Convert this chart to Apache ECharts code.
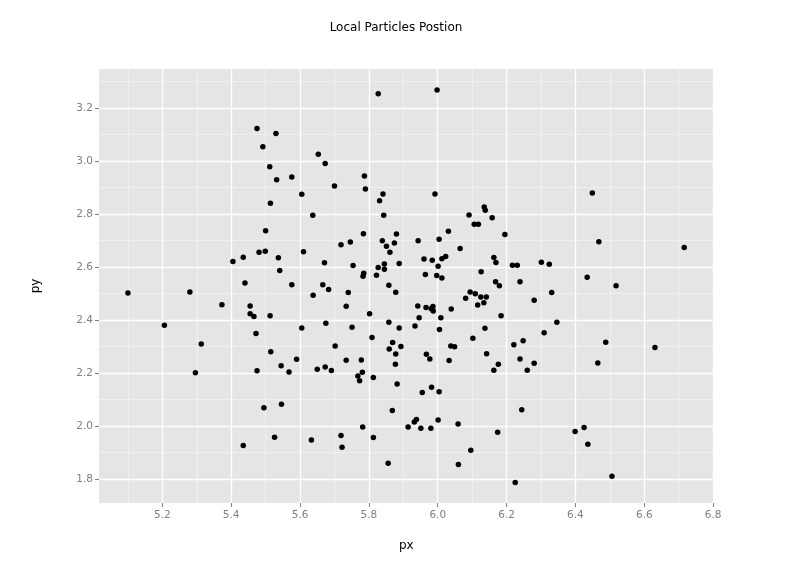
<!DOCTYPE html>
<html>
<head>
<meta charset="utf-8">
<script src="https://cdn.jsdelivr.net/npm/echarts@6/dist/echarts.min.js"></script>
<style>html,body{margin:0;padding:0;background:#fff}#c{width:792px;height:576px}</style>
</head>
<body>
<div id="c"></div>
<script>
const px = [
5.827,5.475,5.530,5.492,5.653,5.673,5.512,5.532,5.576,5.787,5.700,5.790,5.841,5.831,5.605,5.514,
5.998,5.992,6.135,6.138,
6.449,
5.435,5.405,5.440,5.100,5.280,5.373,5.455,5.455,5.206,5.313,
5.637,5.843,5.500,5.784,5.880,5.839,5.874,5.746,5.719,5.851,5.481,5.499,5.610,5.861,5.537,5.671,5.754,5.845,5.888,5.827,5.845,5.541,5.785,5.783,5.822,5.576,5.666,5.858,5.683,5.878,5.638,5.740,5.734,5.802,5.466,5.513,5.675,5.858,5.605,5.751,5.888,5.472,5.809,5.869,5.702,5.893,5.859,5.515,5.878,
6.091,6.158,6.106,6.118,6.031,5.943,6.004,6.195,6.065,5.960,5.984,6.012,6.023,6.163,6.169,6.001,6.217,6.231,6.301,6.324,5.964,5.997,6.012,6.126,6.168,6.179,6.239,6.331,6.094,6.109,6.081,6.125,6.141,6.134,6.116,6.280,5.942,5.966,5.981,5.986,5.987,6.039,6.184,5.946,6.009,6.346,5.934,6.005,6.137,6.309,6.102,6.248,6.221,6.038,6.049,6.142,5.967,5.977,6.033,6.239,
6.468,6.716,6.434,6.518,6.488,6.631,
5.296,5.435,
5.475,5.545,5.568,5.590,5.650,5.673,5.691,5.734,5.778,5.768,5.781,5.773,5.813,5.877,5.882,5.495,5.546,5.868,5.782,5.526,5.633,5.719,5.813,5.722,5.856,
6.176,6.280,6.163,6.260,5.955,5.982,6.004,6.244,5.932,5.938,5.914,5.951,5.980,6.001,6.059,6.174,6.096,6.060,6.225,
6.465,6.425,6.399,6.436,6.506
];
const py = [
3.255,3.123,3.104,3.054,3.026,2.991,2.979,2.930,2.940,2.944,2.906,2.895,2.876,2.850,2.875,2.841,
3.269,2.876,2.827,2.815,
2.880,
2.637,2.621,2.540,2.502,2.506,2.458,2.453,2.424,2.380,2.309,
2.796,2.796,2.737,2.726,2.725,2.699,2.691,2.695,2.684,2.679,2.656,2.660,2.658,2.656,2.635,2.616,2.606,2.612,2.613,2.598,2.592,2.587,2.577,2.565,2.569,2.533,2.533,2.531,2.515,2.505,2.494,2.504,2.452,2.424,2.413,2.416,2.388,2.392,2.370,2.373,2.370,2.349,2.334,2.315,2.302,2.300,2.291,2.280,2.272,
2.797,2.786,2.762,2.762,2.735,2.699,2.705,2.723,2.670,2.630,2.626,2.631,2.640,2.636,2.617,2.603,2.607,2.607,2.618,2.611,2.572,2.568,2.559,2.582,2.545,2.529,2.545,2.504,2.506,2.499,2.482,2.487,2.487,2.465,2.457,2.475,2.453,2.447,2.443,2.451,2.434,2.442,2.416,2.409,2.409,2.392,2.377,2.364,2.369,2.352,2.331,2.322,2.307,2.302,2.299,2.273,2.271,2.253,2.247,2.253,
2.696,2.674,2.562,2.529,2.316,2.296,
2.201,1.926,
2.208,2.227,2.204,2.252,2.214,2.223,2.209,2.248,2.249,2.189,2.203,2.171,2.183,2.233,2.158,2.069,2.082,2.058,1.996,1.957,1.947,1.964,1.956,1.920,1.859,
2.233,2.237,2.210,2.210,2.126,2.146,2.129,2.061,2.015,2.024,1.996,1.991,1.991,2.022,2.007,1.976,1.908,1.854,1.786,
2.238,1.994,1.979,1.931,1.810
];
const xTicks = [5.2,5.4,5.6,5.8,6.0,6.2,6.4,6.6,6.8];
const yTicks = [1.8,2.0,2.2,2.4,2.6,2.8,3.0,3.2];
const xMinor = [5.1,5.3,5.5,5.7,5.9,6.1,6.3,6.5,6.7];
const yMinor = [1.9,2.1,2.3,2.5,2.7,2.9,3.1,3.3];
const xRange = [5.016, 6.801];
const yRange = [1.709, 3.348];

const FONT = 'DejaVu Sans';
const chart = echarts.init(document.getElementById('c'), null, {renderer: 'canvas'});
const points = px.map((x, i) => [x, py[i]]);
const gridLines = (vals, key) => vals.map(v => ({[key]: v}));

chart.setOption({
  animation: false,
  backgroundColor: '#ffffff',
  title: {
    text: 'Local Particles Postion',
    left: 'center', top: 17,
    textStyle: {fontFamily: FONT, fontSize: 12, fontWeight: 'normal', color: '#000'}
  },
  grid: {
    left: 99, right: 78.5, top: 69, bottom: 73,
    show: true, backgroundColor: '#E5E5E5', borderWidth: 0
  },
  xAxis: {
    type: 'value', min: xRange[0], max: xRange[1],
    name: 'px', nameLocation: 'middle', nameGap: 37,
    nameTextStyle: {fontFamily: FONT, fontSize: 12, color: '#000'},
    axisLine: {show: false},
    axisTick: {show: true, length: 4, lineStyle: {color: '#7f7f7f'}, customValues: xTicks},
    axisLabel: {customValues: xTicks, fontFamily: FONT, fontSize: 10.5, color: '#7f7f7f', margin: 7,
      formatter: v => v.toFixed(1)},
    splitLine: {show: false}
  },
  yAxis: {
    type: 'value', min: yRange[0], max: yRange[1],
    name: 'py', nameLocation: 'middle', nameGap: 57, nameRotate: 90,
    nameTextStyle: {fontFamily: FONT, fontSize: 12, color: '#000'},
    axisLine: {show: false},
    axisTick: {show: true, length: 4, lineStyle: {color: '#7f7f7f'}, customValues: yTicks},
    axisLabel: {customValues: yTicks, fontFamily: FONT, fontSize: 10.5, color: '#7f7f7f', margin: 6,
      formatter: v => v.toFixed(1)},
    splitLine: {show: false}
  },
  series: [
    {
      type: 'scatter', data: [], silent: true, z: 1,
      markLine: {
        silent: true, symbol: ['none', 'none'], label: {show: false}, animation: false,
        lineStyle: {color: '#F2F2F2', width: 0.8, type: 'solid'},
        data: gridLines(xMinor, 'xAxis').concat(gridLines(yMinor, 'yAxis'))
      }
    },
    {
      type: 'scatter', data: [], silent: true, z: 1,
      markLine: {
        silent: true, symbol: ['none', 'none'], label: {show: false}, animation: false,
        lineStyle: {color: '#FFFFFF', width: 1.3, type: 'solid'},
        data: gridLines(xTicks, 'xAxis').concat(gridLines(yTicks, 'yAxis'))
      }
    },
    {
      type: 'scatter', z: 5, data: points, symbol: 'circle', symbolSize: 5.5,
      itemStyle: {color: '#000000', opacity: 1},
      emphasis: {disabled: true}
    }
  ]
});
</script>
</body>
</html>
